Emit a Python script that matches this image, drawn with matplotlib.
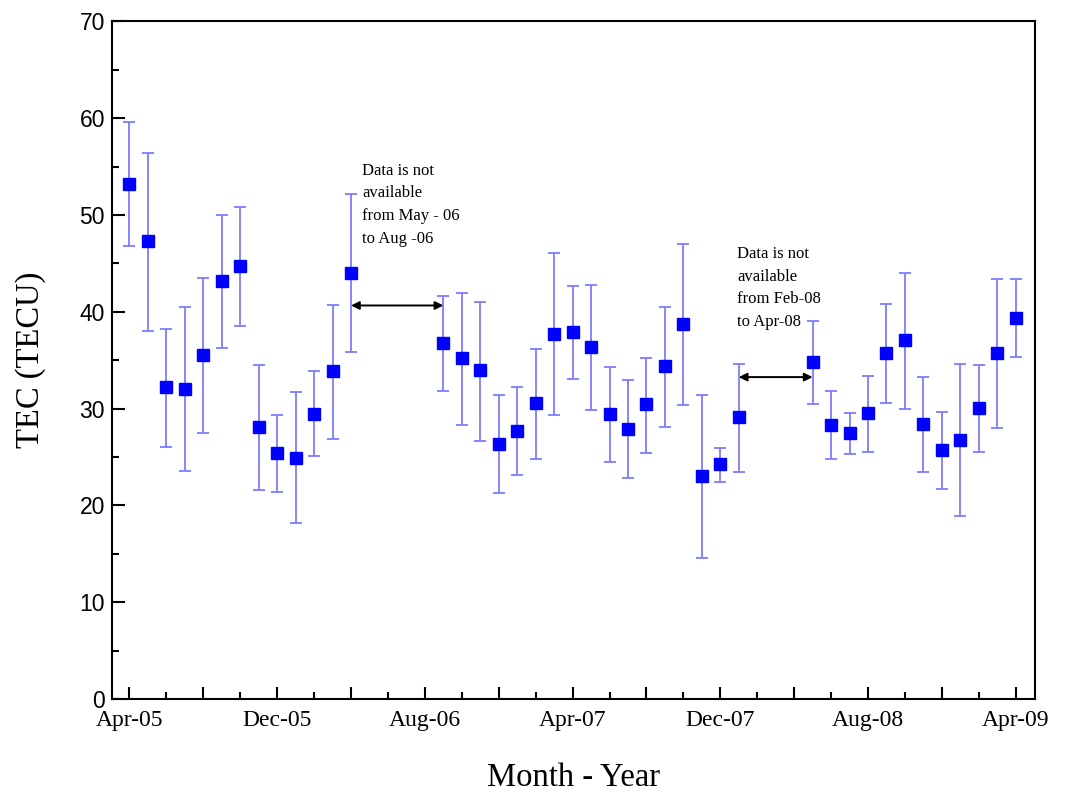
import matplotlib.pyplot as plt
from matplotlib.ticker import MultipleLocator

# monthly mean TEC with error bar limits
months = ["2005-04", "2005-05", "2005-06", "2005-07", "2005-08", "2005-09",
          "2005-10", "2005-11", "2005-12", "2006-01", "2006-02", "2006-03",
          "2006-04", "2006-09", "2006-10", "2006-11", "2006-12", "2007-01",
          "2007-02", "2007-03", "2007-04", "2007-05", "2007-06", "2007-07",
          "2007-08", "2007-09", "2007-10", "2007-11", "2007-12", "2008-01",
          "2008-05", "2008-06", "2008-07", "2008-08", "2008-09", "2008-10",
          "2008-11", "2008-12", "2009-01", "2009-02", "2009-03", "2009-04"]

tec = [53.2, 47.3, 32.2, 32.05, 35.5, 43.2,
       44.7, 28.05, 25.4, 24.9, 29.45, 33.85,
       44.05, 36.8, 35.2, 33.95, 26.35, 27.7,
       30.6, 37.75, 37.95, 36.4, 29.4, 27.85,
       30.45, 34.4, 38.75, 23.05, 24.25, 29.1,
       34.8, 28.35, 27.5, 29.55, 35.75, 37.05,
       28.45, 25.7, 26.8, 30.1, 35.75, 39.4]

upper = [59.65, 56.45, 38.25, 40.45, 43.5, 49.95,
         50.85, 34.55, 29.35, 31.7, 33.85, 40.75,
         52.2, 41.6, 41.95, 41.0, 31.35, 32.2,
         36.2, 46.1, 42.7, 42.8, 34.25, 32.9,
         35.2, 40.5, 47.0, 31.35, 25.95, 34.65,
         39.0, 31.8, 29.55, 33.4, 40.85, 44.05,
         33.25, 29.65, 34.65, 34.55, 43.4, 43.4]

lower = [46.75, 38.05, 26.0, 23.6, 27.5, 36.25,
         38.5, 21.55, 21.35, 18.15, 25.05, 26.85,
         35.8, 31.8, 28.3, 26.7, 21.3, 23.15,
         24.8, 29.3, 33.1, 29.9, 24.5, 22.85,
         25.45, 28.05, 30.4, 14.55, 22.4, 23.45,
         30.45, 24.75, 25.3, 25.55, 30.6, 29.95,
         23.45, 21.65, 18.95, 25.55, 27.95, 35.35]

tick_labels = ["Apr-05", "Dec-05", "Aug-06", "Apr-07", "Dec-07", "Aug-08", "Apr-09"]


def month_index(s):
    y, m = s.split("-")
    return (int(y) - 2005) * 12 + int(m) - 4


x = [month_index(m) for m in months]
err_lo = [t - l for t, l in zip(tec, lower)]
err_hi = [u - t for t, u in zip(tec, upper)]

serif = ["Liberation Serif", "DejaVu Serif"]
sans = ["Liberation Sans", "DejaVu Sans"]

fig = plt.figure(figsize=(10.66, 7.92), dpi=100)
ax = fig.add_axes([0.105, 0.1175, 0.866, 0.8555])

ax.errorbar(x, tec,
            yerr=[err_lo, err_hi],
            fmt='s',
            color='#0000ff',
            markersize=8.5,
            ecolor='#7c7cff',
            elinewidth=1.3,
            capsize=4.6,
            capthick=1.3)

# gaps in the data
ax.annotate("", xy=(12, 40.65), xytext=(17, 40.65),
            arrowprops=dict(arrowstyle='<|-|>', color='black', lw=1.4,
                            mutation_scale=12, shrinkA=0, shrinkB=0))
ax.annotate("", xy=(33, 33.25), xytext=(37, 33.25),
            arrowprops=dict(arrowstyle='<|-|>', color='black', lw=1.4,
                            mutation_scale=12, shrinkA=0, shrinkB=0))

ax.text(12.6, 55.4, "Data is not\navailable\nfrom May - 06\nto Aug -06",
        family=serif, fontsize=12, va='top', ha='left', linespacing=1.55)
ax.text(32.9, 46.8, "Data is not\navailable\nfrom Feb-08\nto Apr-08",
        family=serif, fontsize=12, va='top', ha='left', linespacing=1.55)

ax.set_xlim(-0.95, 49.05)
ax.set_ylim(0, 70)

# long ticks every 4 months, labels every 8
major_pos = list(range(0, 49, 4))
major_lab = [tick_labels[i // 2] if i % 2 == 0 else "" for i in range(len(major_pos))]
ax.set_xticks(major_pos)
ax.set_xticklabels(major_lab, family=serif, fontsize=17)
ax.xaxis.set_minor_locator(MultipleLocator(2))
ax.yaxis.set_major_locator(MultipleLocator(10))
ax.yaxis.set_minor_locator(MultipleLocator(5))
for lab in ax.get_yticklabels():
    lab.set_family(sans)
    lab.set_fontsize(16.5)

ax.tick_params(axis='both', which='major', direction='in', length=9, width=1.5)
ax.tick_params(axis='x', which='major', pad=8)
ax.tick_params(axis='y', which='major', pad=5)
ax.tick_params(axis='both', which='minor', direction='in', length=5, width=1.5)

for sp in ax.spines.values():
    sp.set_linewidth(1.5)

ax.set_xlabel("Month - Year", family=serif, fontsize=23.5, labelpad=23)
ax.set_ylabel("TEC (TECU)", family=serif, fontsize=23.5, labelpad=24)

fig.savefig("out.png", dpi=100)
